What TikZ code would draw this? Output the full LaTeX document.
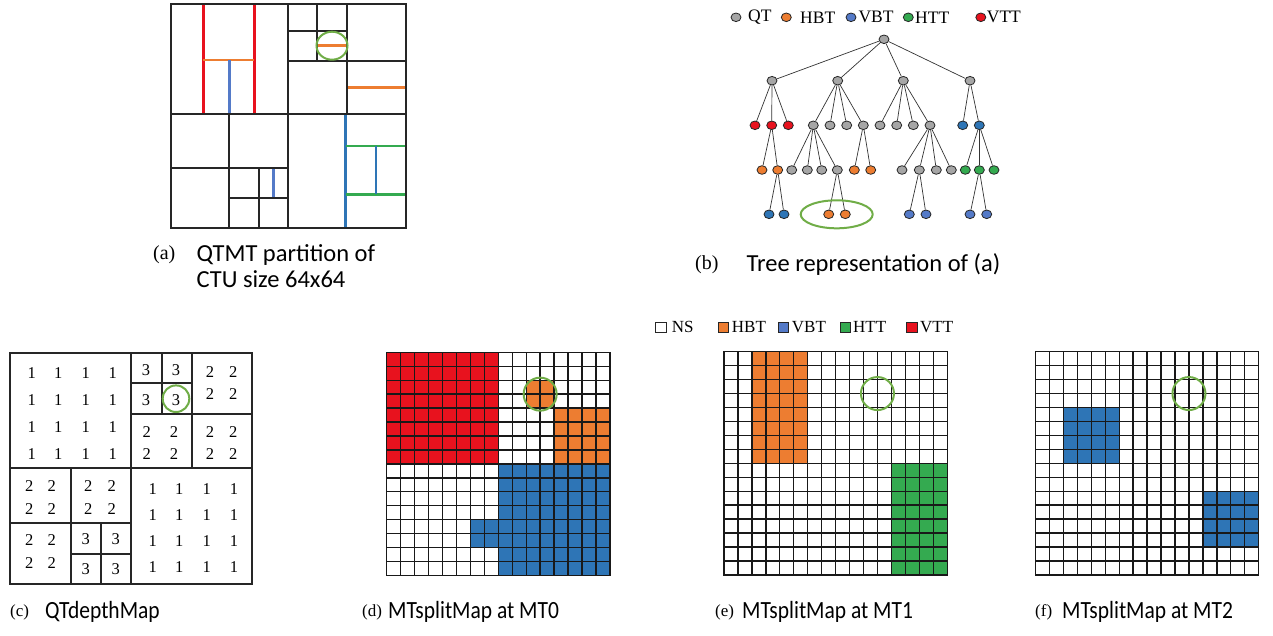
\documentclass[tikz,border=0pt]{standalone}
\usepackage{fontspec}
\setmainfont{Liberation Serif}
\newfontfamily\capfont{Carlito}
\usetikzlibrary{shapes.geometric}
\definecolor{cRed}{RGB}{232,18,30}
\definecolor{cOrange}{RGB}{237,125,49}
\definecolor{cBlue}{RGB}{46,117,182}
\definecolor{cBlueL}{RGB}{84,122,200}
\definecolor{cGreen}{RGB}{52,170,80}
\definecolor{cGray}{RGB}{166,166,166}
\definecolor{cCirc}{RGB}{112,173,71}
\def\cs{13.95}
\newcommand\cellblock[5]{\fill[#1] ({#2*\cs},{#3*\cs}) rectangle ({(#2+#4)*\cs},{(#3+#5)*\cs});}
\newcommand\gridlines{\foreach \i in {0,...,16}{\draw[gridl] ({\i*\cs},0) -- ({\i*\cs},{16*\cs}); \draw[gridl] (0,{\i*\cs}) -- ({16*\cs},{\i*\cs});}}
\begin{document}
\begin{tikzpicture}[x=1pt,y=-1pt,
  blk/.style={line width=2pt, black!85, line cap=rect},
  colln/.style={line width=2.6pt},
  gridl/.style={line width=1.35pt, black!90, line cap=rect},
  mark circ/.style={draw=cCirc, line width=2pt},
  tn/.style={ellipse, draw=black!85, line width=0.8pt, minimum width=10pt, minimum height=8.6pt, inner sep=0pt},
  tq/.style={tn, fill=cGray},
  th/.style={tn, fill=cOrange},
  tvb/.style={tn, fill=cBlue},
  tht/.style={tn, fill=cGreen},
  tvt/.style={tn, fill=cRed},
  edge/.style={line width=0.7pt, black!80},
  lgtxt/.style={font=\fontsize{17.5}{20}\selectfont, inner sep=0pt, anchor=west},
  sq/.style={draw=black!85, line width=1pt, minimum size=10.5pt, inner sep=0pt},
  num/.style={font=\fontsize{16.5}{18}\selectfont, inner sep=0pt},
  lab/.style={font=\fontsize{20}{22}\selectfont, inner sep=0pt, anchor=west},
  labs/.style={font=\fontsize{17}{20}\selectfont, inner sep=0pt, anchor=west},
  capA/.style={font=\capfont\fontsize{24.5}{28}\selectfont, inner sep=0pt, anchor=west},
  capB/.style={font=\capfont\fontsize{21.5}{24}\selectfont, inner sep=0pt, anchor=west, yscale=1.15}
]
\path[use as bounding box] (0,0) rectangle (1273,635);
\fill[white] (0,0) rectangle (1273,635);

%% ---------------- (a) partition
\draw[colln, cRed] (203.3,4) -- (203.3,114.3);
\draw[colln, cRed] (254.3,4) -- (254.3,114.3);
\draw[colln, cOrange] (203.3,60) -- (254.3,60);
\draw[colln, cBlueL] (229.3,60) -- (229.3,114.3);
\draw[colln, cOrange] (317.3,45.7) -- (346.7,45.7);
\draw[colln, cOrange] (346.7,87.7) -- (405.5,87.7);
\draw[colln, cBlueL] (273.3,168.3) -- (273.3,197.7);
\draw[colln, cBlue] (345.7,114.3) -- (345.7,227.5);
\draw[colln, cGreen] (345.7,146) -- (405.5,146);
\draw[colln, cGreen] (345.7,194.3) -- (405.5,194.3);
\draw[colln, cBlue] (376,146) -- (376,194.3);
\draw[blk] (287.7,4) -- (287.7,227.5);
\draw[blk] (171,114.3) -- (405.5,114.3);
\draw[blk] (346.7,4) -- (346.7,114.3);
\draw[blk] (287.7,61) -- (405.5,61);
\draw[blk] (317.3,4) -- (317.3,61);
\draw[blk] (287.7,31.3) -- (346.7,31.3);
\draw[blk] (229.3,114.3) -- (229.3,227.5);
\draw[blk] (171,168.3) -- (287.7,168.3);
\draw[blk] (258.7,168.3) -- (258.7,227.5);
\draw[blk] (229.3,197.7) -- (287.7,197.7);
\draw[blk] (171,4) rectangle (405.5,227.5);
\draw[mark circ] (332,45.7) ellipse [x radius=15.5, y radius=14];
\node[lab] (la) at (153,255) {(a)};
\node[capA] (ca1) at (196.5,255) {QTMT partition of};
\node[capA] (ca2) at (196.5,279) {CTU size 64x64};

%% ---------------- (b) tree
\node[tq] (lg1) at (736,17.3) {};
\node[lgtxt] (lt1) at (748,17.3) {QT};
\node[th] (lg2) at (786.3,17.3) {};
\node[lgtxt] (lt2) at (800,17.3) {HBT};
\node[tvb, fill=cBlueL] (lg3) at (851,17.3) {};
\node[lgtxt] (lt3) at (858.3,17.3) {VBT};
\node[tht] (lg4) at (908.3,17.3) {};
\node[lgtxt] (lt4) at (915,17.3) {HTT};
\node[tvt] (lg5) at (980.8,17.3) {};
\node[lgtxt] (lt5) at (986.7,17.3) {VTT};

\node[tq] (r) at (884,39.3) {};
\node[tq] (a1) at (772,80.7) {};
\node[tq] (a2) at (837.7,80.7) {};
\node[tq] (a3) at (903.3,80.7) {};
\node[tq] (a4) at (970,80.7) {};
\node[tvt] (b1) at (755,125.3) {};
\node[tvt] (b2) at (771.7,125.3) {};
\node[tvt] (b3) at (788.3,125.3) {};
\node[tq] (b4) at (813.3,125.3) {};
\node[tq] (b5) at (830,125.3) {};
\node[tq] (b6) at (846.7,125.3) {};
\node[tq] (b7) at (863.3,125.3) {};
\node[tq] (b8) at (880,125.3) {};
\node[tq] (b9) at (896.7,125.3) {};
\node[tq] (b10) at (913.3,125.3) {};
\node[tq] (b11) at (930,125.3) {};
\node[tvb] (b12) at (962.7,125.3) {};
\node[tvb] (b13) at (979.3,125.3) {};
\node[th] (c1) at (762,170) {};
\node[th] (c2) at (777.7,170) {};
\node[tq] (c3) at (791.7,170) {};
\node[tq] (c4) at (807.3,170) {};
\node[tq] (c5) at (821.7,170) {};
\node[tq] (c6) at (837.3,170) {};
\node[th] (c7) at (854.3,170) {};
\node[th] (c8) at (870.7,170) {};
\node[tq] (c9) at (902,170) {};
\node[tq] (c10) at (919.3,170) {};
\node[tq] (c11) at (936.3,170) {};
\node[tq] (c12) at (951.3,170) {};
\node[tht] (c13) at (965.3,170) {};
\node[tht] (c14) at (979.3,170) {};
\node[tht] (c15) at (994,170) {};
\node[tvb] (d1) at (769,214.3) {};
\node[tvb] (d2) at (784,214.3) {};
\node[th] (d3) at (828.7,214.3) {};
\node[th] (d4) at (845.3,214.3) {};
\node[tvb, fill=cBlueL] (d5) at (909.3,214.3) {};
\node[tvb, fill=cBlueL] (d6) at (926,214.3) {};
\node[tvb, fill=cBlueL] (d7) at (970,214.3) {};
\node[tvb, fill=cBlueL] (d8) at (986.7,214.3) {};
\foreach \p/\c in {r/a1,r/a2,r/a3,r/a4,a1/b1,a1/b2,a1/b3,a2/b4,a2/b5,a2/b6,a2/b7,a3/b8,a3/b9,a3/b10,a3/b11,a4/b12,a4/b13,b2/c1,b2/c2,b4/c3,b4/c4,b4/c5,b4/c6,b7/c7,b7/c8,b11/c9,b11/c10,b11/c11,b11/c12,b13/c13,b13/c14,b13/c15,c2/d1,c2/d2,c6/d3,c6/d4,c10/d5,c10/d6,c14/d7,c14/d8}
  \draw[edge] (\p) -- (\c);
\draw[mark circ] (836.7,214.3) ellipse [x radius=36, y radius=14];
\node[lab] (lb) at (695,265) {(b)};
\node[capA] (cb) at (746.5,265) {Tree representation of (a)};

%% ---------------- (c) QTdepthMap
\draw[blk] (131.3,353.3) -- (131.3,584.3);
\draw[blk] (10,468.3) -- (252.3,468.3);
\draw[blk] (192.3,353.3) -- (192.3,468.3);
\draw[blk] (131.3,414.3) -- (252.3,414.3);
\draw[blk] (162,353.3) -- (162,414.3);
\draw[blk] (131.3,383.3) -- (192.3,383.3);
\draw[blk] (70.7,468.3) -- (70.7,584.3);
\draw[blk] (10,523.3) -- (131.3,523.3);
\draw[blk] (101,523.3) -- (101,584.3);
\draw[blk] (70.7,554) -- (131.3,554);
\draw[blk] (10,353.3) rectangle (252.3,584.3);
\foreach \x [count=\i] in {31.7,58.3,85.7,112.7}
  \foreach \y [count=\j] in {373.3,400,427.3,454}
    \node[num] (qa\i\j) at (\x,\y) {1};
\foreach \x [count=\i] in {152.7,179.3,206.7,234}
  \foreach \y [count=\j] in {489.3,515,541,567.3}
    \node[num] (qb\i\j) at (\x,\y) {1};
\foreach \x [count=\i] in {146,176}
  \foreach \y [count=\j] in {370,400}
    \node[num] (qc\i\j) at (\x,\y) {3};
\foreach \x [count=\i] in {85.7,115.7}
  \foreach \y [count=\j] in {539.3,569.3}
    \node[num] (qd\i\j) at (\x,\y) {3};
\foreach \x [count=\i] in {210,233.3}
  \foreach \y [count=\j] in {371.7,394}
    \node[num] (qe\i\j) at (\x,\y) {2};
\foreach \x [count=\i] in {146.7,174,210,233.3}
  \foreach \y [count=\j] in {432.3,454}
    \node[num] (qf\i\j) at (\x,\y) {2};
\foreach \x [count=\i] in {29.3,51.7,88.3,111.7}
  \foreach \y [count=\j] in {485.7,509.3}
    \node[num] (qg\i\j) at (\x,\y) {2};
\foreach \x [count=\i] in {29.3,51.7}
  \foreach \y [count=\j] in {540,563.3}
    \node[num] (qh\i\j) at (\x,\y) {2};
\draw[mark circ] (176,398.7) circle [radius=13.3];
\node[labs] (lc) at (10,612) {(c)};
\node[capB] (cc) at (45,612) {QTdepthMap};

%% ---------------- legend (d)-(f)
\node[sq, fill=white] (s1) at (661,327.3) {};
\node[lgtxt, font=\fontsize{17}{20}\selectfont] (st1) at (671.7,327.3) {NS};
\node[sq, fill=cOrange] (s2) at (723.5,327.3) {};
\node[lgtxt, font=\fontsize{17}{20}\selectfont] (st2) at (731.7,327.3) {HBT};
\node[sq, fill=cBlueL] (s3) at (783.5,327.3) {};
\node[lgtxt, font=\fontsize{17}{20}\selectfont] (st3) at (791.7,327.3) {VBT};
\node[sq, fill=cGreen] (s4) at (845.5,327.3) {};
\node[lgtxt, font=\fontsize{17}{20}\selectfont] (st4) at (853,327.3) {HTT};
\node[sq, fill=cRed] (s5) at (912,327.3) {};
\node[lgtxt, font=\fontsize{17}{20}\selectfont] (st5) at (920,327.3) {VTT};

%% ---------------- (d) MT0
\begin{scope}[shift={(386.7,352.3)}]
  \cellblock{cRed}{0}{0}{8}{8}
  \cellblock{cOrange}{10}{2}{2}{2}
  \cellblock{cOrange}{12}{4}{4}{4}
  \cellblock{cBlue}{8}{8}{8}{8}
  \cellblock{cBlue}{6}{12}{2}{2}
  \gridlines
  \draw[mark circ] ({11*\cs},{3*\cs}) circle [radius=16.5];
\end{scope}
\node[labs] (ld) at (362,612) {(d)};
\node[capB] (cd) at (388,612) {MTsplitMap at MT0};

%% ---------------- (e) MT1
\begin{scope}[shift={(724,351.7)}]
  \cellblock{cOrange}{2}{0}{4}{8}
  \cellblock{cGreen}{12}{8}{4}{8}
  \gridlines
  \draw[mark circ] ({11*\cs},{3*\cs}) circle [radius=16.5];
\end{scope}
\node[labs] (le) at (715,612) {(e)};
\node[capB] (ce) at (742,612) {MTsplitMap at MT1};

%% ---------------- (f) MT2
\begin{scope}[shift={(1035.5,351.7)}]
  \cellblock{cBlue}{2}{4}{4}{4}
  \cellblock{cBlue}{12}{10}{4}{4}
  \gridlines
  \draw[mark circ] ({11*\cs},{3*\cs}) circle [radius=16.5];
\end{scope}
\node[labs] (lf) at (1035,612) {(f)};
\node[capB] (cf) at (1062,612) {MTsplitMap at MT2};
\end{tikzpicture}
\end{document}
